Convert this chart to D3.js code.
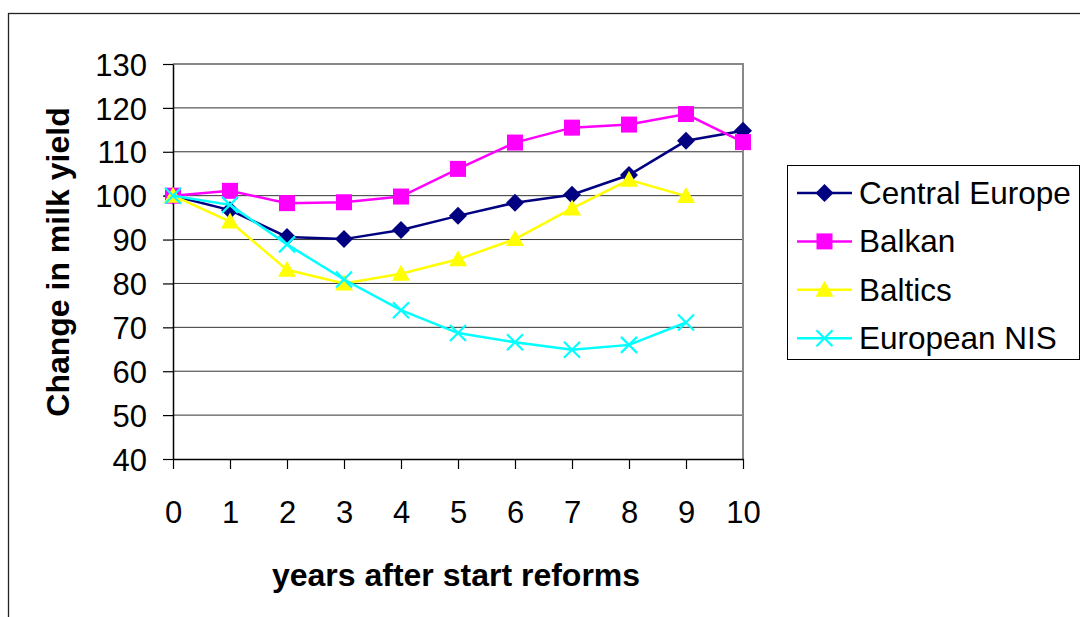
<!DOCTYPE html>
<html>
<head>
<meta charset="utf-8">
<script src="https://cdn.jsdelivr.net/npm/d3@7"></script>
<style>
  body { margin: 0; background: #fff; }
  svg { display: block; font-family: "Liberation Sans", Arial, sans-serif; }
</style>
</head>
<body>
<svg id="chart" width="1080" height="617"></svg>
<script>
// Data
var years = [0, 1, 2, 3, 4, 5, 6, 7, 8, 9, 10];
var centralEurope = [100, 96.7, 90.6, 90.1, 92.2, 95.4, 98.4, 100.2, 104.7, 112.5, 114.8];
var balkan = [100, 101.1, 98.3, 98.5, 99.8, 106.1, 112.1, 115.5, 116.2, 118.6, 112.2];
var baltics = [100, 94.1, 83.1, 80.0, 82.2, 85.5, 90.1, 97.1, 103.6, 99.9];
var europeanNIS = [100, 97.9, 88.9, 80.9, 73.9, 68.7, 66.6, 64.9, 66.0, 71.1];
var yTicks = [40, 50, 60, 70, 80, 90, 100, 110, 120, 130];
var seriesNames = ['Central Europe', 'Balkan', 'Baltics', 'European NIS'];

var config = {
  plotLeft: 173,
  plotRight: 743,
  plotTop: 64,
  plotBottom: 459,
  tickFont: 31,
  legendFont: 31.5,
  titleFont: 32,
  lineWidth: 2.5,
}

var series = [
  { name: seriesNames[0], values: centralEurope, color: '#000080', marker: 'diamond' },
  { name: seriesNames[1], values: balkan, color: '#ff00ff', marker: 'square' },
  { name: seriesNames[2], values: baltics, color: '#ffff00', marker: 'triangle' },
  { name: seriesNames[3], values: europeanNIS, color: '#00ffff', marker: 'cross' },
];

var svg = d3.select('#chart');

// outer chart border (runs off the right and bottom edges like the reference)
svg.append('rect')
  .attr('x', 8.5).attr('y', 13.5)
  .attr('width', 1200).attr('height', 800)
  .attr('fill', 'none')
  .attr('stroke', '#222')
  .attr('stroke-width', 1.3);

var x = d3.scaleLinear().domain([0, 10]).range([config.plotLeft, config.plotRight]);
var y = d3.scaleLinear().domain([40, 130]).range([config.plotBottom, config.plotTop]);

// gridlines
svg.append('g')
  .selectAll('line')
  .data(yTicks.filter(function(d) { return d > 40 && d < 130; }))
  .enter().append('line')
  .attr('x1', config.plotLeft).attr('x2', config.plotRight)
  .attr('y1', function(d) { return y(d); }).attr('y2', function(d) { return y(d); })
  .attr('stroke', '#333')
  .attr('stroke-width', 1);

// plot area frame top + right (grey)
svg.append('path')
  .attr('d', 'M' + config.plotLeft + ',' + config.plotTop + 'H' + config.plotRight + 'V' + config.plotBottom)
  .attr('fill', 'none')
  .attr('stroke', '#888')
  .attr('stroke-width', 2);

// axes
var xAxis = svg.append('g')
  .attr('transform', 'translate(0,' + config.plotBottom + ')')
  .call(d3.axisBottom(x).tickValues(years).tickFormat(d3.format('d')).tickSizeInner(10).tickSizeOuter(0).tickPadding(32));
var yAxis = svg.append('g')
  .attr('transform', 'translate(' + config.plotLeft + ',0)')
  .call(d3.axisLeft(y).tickValues(yTicks).tickSizeInner(10).tickSizeOuter(0).tickPadding(16));

[xAxis, yAxis].forEach(function(a) {
  a.select('.domain').attr('stroke', '#000').attr('stroke-width', 1.5);
  a.selectAll('.tick line').attr('stroke', '#000').attr('stroke-width', 1.2);
  a.selectAll('.tick text')
    .attr('fill', '#000')
    .style('font-family', '"Liberation Sans", Arial, sans-serif')
    .style('font-size', config.tickFont + 'px');
});
yAxis.selectAll('.tick text').attr('dy', '0.36em');

// axis titles
svg.append('text')
  .attr('x', 456).attr('y', 586)
  .attr('text-anchor', 'middle')
  .attr('font-weight', 'bold')
  .attr('font-size', config.titleFont + 'px')
  .text('years after start reforms');
svg.append('text')
  .attr('transform', 'translate(69,262) rotate(-90)')
  .attr('text-anchor', 'middle')
  .attr('font-weight', 'bold')
  .attr('font-size', config.titleFont + 'px')
  .text('Change in milk yield');

// marker drawing
function drawMarker(sel, kind, color) {
  if (kind === 'diamond') {
    sel.append('path').attr('d', 'M0,-9L9,0L0,9L-9,0Z').attr('fill', color);
  } else if (kind === 'square') {
    sel.append('rect').attr('x', -8).attr('y', -8).attr('width', 16).attr('height', 16).attr('fill', color);
  } else if (kind === 'triangle') {
    sel.append('path').attr('d', 'M0,-9L9,7L-9,7Z').attr('fill', color);
  } else {
    sel.append('path').attr('d', 'M-8,-8L8,8M-8,8L8,-8').attr('stroke', color).attr('stroke-width', 2.2).attr('fill', 'none');
  }
}

var line = d3.line()
  .x(function(d, i) { return x(years[i]); })
  .y(function(d) { return y(d); });

series.forEach(function(s) {
  var g = svg.append('g');
  g.append('path')
    .attr('d', line(s.values))
    .attr('fill', 'none')
    .attr('stroke', s.color)
    .attr('stroke-width', config.lineWidth);
  s.values.forEach(function(v, i) {
    var m = g.append('g').attr('transform', 'translate(' + x(years[i]) + ',' + y(v) + ')');
    drawMarker(m, s.marker, s.color);
  });
});

// legend
var legend = svg.append('g');
legend.append('rect')
  .attr('x', 787.5).attr('y', 165.5)
  .attr('width', 292).attr('height', 194)
  .attr('fill', '#fff')
  .attr('stroke', '#000')
  .attr('stroke-width', 1);
series.forEach(function(s, i) {
  var cy = 193 + i * 48.4;
  var item = legend.append('g');
  item.append('line')
    .attr('x1', 797).attr('x2', 852)
    .attr('y1', cy).attr('y2', cy)
    .attr('stroke', s.color)
    .attr('stroke-width', config.lineWidth);
  drawMarker(item.append('g').attr('transform', 'translate(824.5,' + cy + ')'), s.marker, s.color);
  item.append('text')
    .attr('x', 859).attr('y', cy + 11)
    .attr('font-size', config.legendFont + 'px')
    .text(s.name);
});
</script>
</body>
</html>
